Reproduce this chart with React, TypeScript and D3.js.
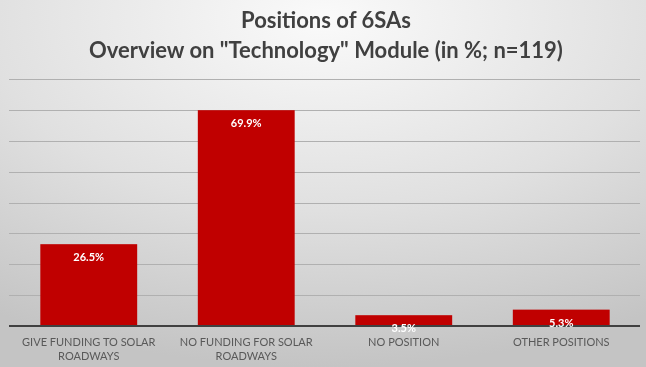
import React from "react";
import * as d3 from "d3";

const categories: string[][] = [
  ["GIVE FUNDING TO SOLAR", "ROADWAYS"],
  ["NO FUNDING FOR SOLAR", "ROADWAYS"],
  ["NO POSITION"],
  ["OTHER POSITIONS"],
];
const values: number[] = [26.5, 69.9, 3.5, 5.3];
const valueLabels: string[] = ["26.5%", "69.9%", "3.5%", "5.3%"];
const gridTicks: number[] = [10, 20, 30, 40, 50, 60, 70, 80];
const titleLines: string[] = ["Positions of 6SAs", 'Overview on "Technology" Module (in %; n=119)'];

const W = 646;
const H = 367;

export default function App() {
  const keys = categories.map((c) => c.join(" "));
  const x = d3.scaleBand<string>().domain(keys).range([10, 640]).paddingInner(0.385).paddingOuter(0.1925);
  const y = d3.scaleLinear().domain([0, 80]).range([326, 79]);
  const font = "Lato, 'Open Sans', sans-serif";
  return (
    <svg width={W} height={H} style={{ position: "fixed", left: 0, top: 0 }} fontFamily={font}>
      <defs>
        <radialGradient id="bg" cx="50%" cy="5%" r="95%" fx="50%" fy="5%">
          <stop offset="0%" stopColor="#fafafa" />
          <stop offset="55%" stopColor="#e0e0e0" />
          <stop offset="100%" stopColor="#c4c4c4" />
        </radialGradient>
      </defs>
      <rect x={0} y={0} width={W} height={H} fill="url(#bg)" />
      {titleLines.map((t, i) => (
        <text key={t} x={326} y={28 + i * 30} textAnchor="middle" fontSize={22} fontWeight="bold" fill="#404040">
          {t}
        </text>
      ))}
      {gridTicks.map((v) => (
        <line key={v} x1={9} x2={640} y1={Math.round(y(v)) + 0.5} y2={Math.round(y(v)) + 0.5} stroke="#b0b0b0" strokeWidth={1} />
      ))}
      {values.map((v, i) => (
        <rect key={keys[i]} x={x(keys[i])} y={y(v)} width={x.bandwidth()} height={y(0) - y(v)} fill="#c00000" />
      ))}
      <line x1={9} x2={640} y1={326} y2={326} stroke="#404040" strokeWidth={2} />
      {values.map((v, i) => (
        <text key={"l" + i} x={(x(keys[i]) as number) + x.bandwidth() / 2} y={y(v) + 17} textAnchor="middle" fontSize={11} fontWeight="bold" fill="#ffffff">
          {valueLabels[i]}
        </text>
      ))}
      {categories.map((lines, i) => (
        <text key={"c" + i} x={(x(keys[i]) as number) + x.bandwidth() / 2} y={346} textAnchor="middle" fontSize={11} fill="#595959">
          {lines.map((ln, j) => (
            <tspan key={j} x={(x(keys[i]) as number) + x.bandwidth() / 2} dy={j === 0 ? 0 : 14}>
              {ln}
            </tspan>
          ))}
        </text>
      ))}
    </svg>
  );
}
